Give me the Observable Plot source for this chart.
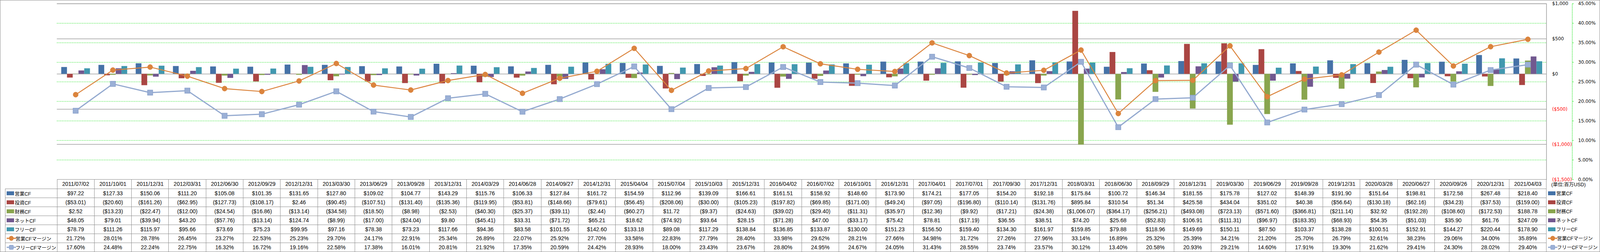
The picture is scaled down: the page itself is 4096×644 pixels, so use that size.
<!DOCTYPE html>
<html><head><meta charset="utf-8">
<script src="https://cdn.jsdelivr.net/npm/d3@7"></script>
<script src="https://cdn.jsdelivr.net/npm/@observablehq/plot@0.6"></script>
<style>
html,body{margin:0;padding:0;background:#fff;}
#wrap{position:relative;width:4096px;height:644px;overflow:hidden;font-family:"Liberation Sans","Noto Sans CJK JP",sans-serif;background:#fff;}
#tbl{position:absolute;top:0;left:0;border-collapse:collapse;table-layout:fixed;}
#tbl td{border:1px solid #8c8c8c;text-align:center;font-size:14px;padding:0;white-space:nowrap;overflow:hidden;color:#000;}
#tbl td.blank{border-top:none;border-left:none;}
#tbl td.lab{text-align:left;padding-left:3px;font-size:12.5px;}
#chart{position:absolute;left:0;top:0;}
#legend{position:absolute;}
.lg{position:absolute;font-size:12.5px;white-space:nowrap;display:flex;align-items:center;}
#frameBox{position:absolute;left:0;top:0;width:4096px;height:644px;box-sizing:border-box;border:1px solid #8c8c8c;pointer-events:none;}
</style>
</head><body>
<div id="wrap"><div id="tblHolder"></div><div id="chart"></div><div id="legend"></div><div id="frameBox"></div></div>
<script>
const dates = ["2011/07/02","2011/10/01","2011/12/31","2012/03/31","2012/06/30","2012/09/29","2012/12/31","2013/03/30","2013/06/29","2013/09/28","2013/12/31","2014/03/29","2014/06/28","2014/09/27","2014/12/31","2015/04/04","2015/07/04","2015/10/03","2015/12/31","2016/04/02","2016/07/02","2016/10/01","2016/12/31","2017/04/01","2017/07/01","2017/09/30","2017/12/31","2018/03/31","2018/06/30","2018/09/29","2018/12/31","2019/03/30","2019/06/29","2019/09/28","2019/12/31","2020/03/28","2020/06/27","2020/09/26","2020/12/31","2021/04/03"];
const opCF = [97.22,127.33,150.06,111.20,105.08,101.35,131.65,127.80,109.02,104.77,143.29,115.76,106.33,127.84,161.72,154.59,112.96,139.09,166.61,161.51,158.92,148.60,173.90,174.21,177.05,154.20,192.18,175.84,100.72,146.34,181.55,175.78,127.02,148.39,191.90,151.64,198.81,172.58,267.48,218.40];
const invCF = [-53.01,-20.60,-161.26,-62.95,-127.73,-108.17,2.46,-90.45,-107.51,-131.40,-135.36,-119.95,-53.81,-148.66,-79.61,-56.45,-208.06,-30.00,-105.23,-197.82,-69.85,-171.00,-49.24,-97.05,-196.80,-110.14,-131.76,895.84,310.54,51.34,425.58,434.04,351.02,40.38,-56.64,-130.18,-62.16,-34.23,-37.53,-159.00];
const finCF = [2.52,-13.23,-22.47,-12.00,-24.54,-16.86,-13.14,-34.58,-18.50,-8.98,-2.53,-40.30,-25.37,-39.11,-2.44,-60.27,11.72,-9.37,-24.63,-39.02,-29.40,-11.31,-35.97,-12.36,-9.92,-17.21,-24.38,-1006.07,-364.17,-256.21,-493.08,-723.13,-571.60,-366.81,-211.14,32.92,-192.28,-108.60,-172.53,188.78];
const netCF = [48.05,79.01,-39.94,43.20,-57.76,-13.14,124.74,-8.99,-17.00,-24.04,9.80,-45.41,33.31,-71.72,65.21,18.62,-74.92,93.64,28.15,-71.28,47.00,-33.17,75.42,78.81,-17.19,36.55,38.51,74.20,25.68,-52.83,106.91,-111.31,-96.97,-183.35,-68.93,54.35,-51.03,35.90,61.76,247.09];
const freeCF = [78.79,111.26,115.97,95.66,73.69,75.23,99.95,97.16,78.38,73.23,117.66,94.36,83.58,101.55,142.60,133.18,89.08,117.29,138.84,136.85,133.87,130.00,151.23,156.50,159.40,134.30,161.97,159.85,79.88,118.96,149.69,150.11,87.50,103.37,138.28,100.51,152.91,144.27,220.44,178.90];
const opMargin = [21.72,28.01,28.78,26.45,23.27,22.53,25.23,29.70,24.17,22.91,25.34,26.89,22.07,25.92,27.70,33.58,22.83,27.79,28.40,33.98,29.62,28.21,27.66,34.98,31.72,27.26,27.96,33.14,16.89,25.32,25.39,34.21,21.20,25.70,26.79,32.61,38.23,29.06,34.00,35.89];
const freeMargin = [17.60,24.48,22.24,22.75,16.32,16.72,19.16,22.58,17.38,16.01,20.81,21.92,17.35,20.59,24.42,28.93,18.00,23.43,23.67,28.80,24.95,24.67,24.05,31.43,28.55,23.74,23.57,30.12,13.40,20.58,20.93,29.21,14.60,17.91,19.30,21.62,29.41,24.30,28.02,29.40];
const seriesNames = ["営業CF","投資CF","財務CF","ネットCF","フリーCF","営業CFマージン","フリーCFマージン"];
const seriesColors = ["#4572A7","#AA4643","#89A54E","#71588F","#4198AF","#DB843D","#93A9CF"];
const dollarTicks = [1000,500,0,-500,-1000,-1500];
const pctTicks = [0,5,10,15,20,25,30,35,40,45];
const unitLabel = "(単位:百万USD)";

const S = 0.75;
const W = 4096;
const mL = 194*S, mR = W - 5278*S, mT = 12*S;
const plotBottom = 611*S, headerH = 32*S, rowH = (858-643)/7*S;
const H = plotBottom + headerH;
const pctToY = d3.scaleLinear([0,45],[-1500,1000]);
const yToPct = pctToY.invert;

const keys = ["op","inv","fin","net","free"];
const series = [opCF, invCF, finCF, netCF, freeCF, opMargin, freeMargin];
const rows = dates.map((date,i)=>({date, op:opCF[i], inv:invCF[i], fin:finCF[i], net:netCF[i], free:freeCF[i], opM:opMargin[i], freeM:freeMargin[i]}));

const bw = (W - mL - mR)/dates.length;
const gap = bw*0.118, barW = bw*0.1543;
const bars = keys.map((k,i)=>Plot.barY(rows,{x:"date", y:k, fill:seriesColors[i], insetLeft: gap+i*barW, insetRight: bw-gap-(i+1)*barW}));

const money = d3.format("($,.2f");
const axisMoney = d3.format("($,.0f");
const green = "#00e000";

const chart = Plot.plot({
  width: W, height: H,
  marginLeft: mL, marginRight: mR, marginTop: mT, marginBottom: headerH,
  style: {background: "transparent", overflow: "visible", fontFamily: "'Liberation Sans','Noto Sans CJK JP',sans-serif"},
  x: {type: "band", domain: dates, paddingInner: 0, paddingOuter: 0, round: false, label: null},
  y: {domain: [-1500, 1000], label: null},
  marks: [
    Plot.ruleY(pctTicks.slice(1,-1).map(p=>pctToY(p)), {stroke: green, strokeWidth: 0.9, strokeDasharray: "2.5,1.8"}),
    Plot.ruleY(dollarTicks.slice(0,-1), {stroke: "#8c8c8c", strokeWidth: 1.3}),
    Plot.frame({anchor: "right", stroke: "#8c8c8c", strokeWidth: 1.3}),
    ...bars,
    Plot.line(rows, {x: "date", y: d=>pctToY(d.opM), stroke: seriesColors[5], strokeWidth: 2.4}),
    Plot.dot(rows, {x: "date", y: d=>pctToY(d.opM), r: 6.6, fill: seriesColors[5], stroke: "#d9803a", strokeWidth: 0.8}),
    Plot.line(rows, {x: "date", y: d=>pctToY(d.freeM), stroke: seriesColors[6], strokeWidth: 3}),
    Plot.dot(rows, {x: "date", y: d=>pctToY(d.freeM), symbol: "square", r: 7.4, fill: "#9bb0d6", stroke: "#8ba2cc", strokeWidth: 1.5}),
    Plot.axisX({ticks: dates, tickSize: 0, tickPadding: 6, fontSize: 14, label: null}),
    Plot.axisY(dollarTicks.filter(v=>v>=0), {anchor: "right", tickSize: 0, tickPadding: 14.5, tickFormat: axisMoney, fontSize: 11.8, fontFamily: "'DejaVu Sans',sans-serif", label: null}),
    Plot.axisY(dollarTicks.filter(v=>v<0), {anchor: "right", tickSize: 0, tickPadding: 14.5, tickFormat: axisMoney, fontSize: 11.8, fontFamily: "'DejaVu Sans',sans-serif", fill: "#ff0000", label: null}),
    Plot.frame({anchor: "right", dx: 66, stroke: green, strokeDasharray: "2.5,1.8", strokeWidth: 0.9}),
    Plot.axisY(pctTicks.map(p=>pctToY(p)), {anchor: "right", dx: 66, tickSize: 3, tickPadding: 12, stroke: green, fill: "#000", tickFormat: v=>yToPct(v).toFixed(2)+"%", fontSize: 11.8, fontFamily: "'DejaVu Sans',sans-serif", label: null})
  ]
});
document.getElementById("chart").appendChild(chart);

// data table below the chart, aligned on the x scale
const xs = chart.scale("x");
const band = xs.bandwidth;
const tblLeft = 17*S;
const tbl = document.createElement("table");
tbl.id = "tbl";
tbl.style.left = tblLeft + "px";
tbl.style.top = plotBottom + "px";
const cg = document.createElement("colgroup");
const c0 = document.createElement("col"); c0.style.width = (mL - tblLeft) + "px"; cg.appendChild(c0);
dates.forEach(()=>{const c=document.createElement("col"); c.style.width = band + "px"; cg.appendChild(c);});
tbl.appendChild(cg);
const hdr = document.createElement("tr"); hdr.style.height = headerH + "px";
const hb = document.createElement("td"); hb.className = "blank"; hdr.appendChild(hb);
dates.forEach(()=>hdr.appendChild(document.createElement("td")));
tbl.appendChild(hdr);

function marker(i){
  const c = seriesColors[i];
  if (i < 5) return `<span style="display:inline-block;width:19px;height:10px;background:${c};margin-right:2px"></span>`;
  const m = i === 5
    ? `<ellipse cx="12" cy="7" rx="6" ry="6.2" fill="${c}"/>`
    : `<rect x="6.5" y="1.5" width="11" height="11" rx="2" fill="#9bb0d6" stroke="#8ba2cc"/>`;
  return `<svg width="24" height="14" style="margin-right:-1px"><line x1="0" x2="24" y1="7" y2="7" stroke="${c}" stroke-width="3"/>${m}</svg>`;
}
seriesNames.forEach((name,i)=>{
  const tr = document.createElement("tr"); tr.style.height = rowH + "px";
  const td = document.createElement("td"); td.className = "lab";
  td.innerHTML = `<span style="display:inline-flex;align-items:center">${marker(i)}${name}</span>`;
  tr.appendChild(td);
  series[i].forEach(v=>{
    const c = document.createElement("td");
    c.textContent = i < 5 ? money(v) : v.toFixed(2) + "%";
    tr.appendChild(c);
  });
  tbl.appendChild(tr);
});
document.getElementById("tblHolder").appendChild(tbl);

// right-hand legend
const lg = document.getElementById("legend");
const lx = 5284*S;
const unit = document.createElement("div");
unit.className = "lg"; unit.textContent = unitLabel;
unit.style.left = (5295*S) + "px"; unit.style.top = plotBottom + "px"; unit.style.height = headerH + "px";
lg.appendChild(unit);
seriesNames.forEach((name,i)=>{
  const d = document.createElement("div");
  d.className = "lg";
  d.style.left = lx + "px";
  d.style.top = (plotBottom + headerH + i*rowH) + "px";
  d.style.height = rowH + "px";
  d.innerHTML = marker(i) + name;
  lg.appendChild(d);
});
</script>
</body></html>
